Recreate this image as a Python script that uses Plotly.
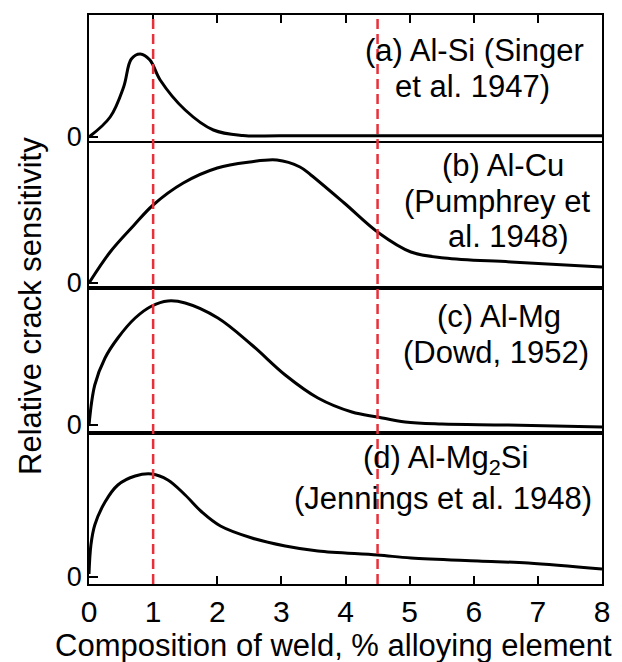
import plotly.graph_objects as go
from plotly.subplots import make_subplots

# ---- data (relative crack sensitivity vs composition, % alloying element) ----
x_a = [0, 0.33, 0.54, 0.66, 0.8, 0.95, 1.11, 1.5, 1.94, 2.4, 3.0, 8.0]
y_a = [0, 0.20, 0.50, 0.78, 0.83, 0.77, 0.57, 0.27, 0.07, 0.015, 0.012, 0.012]

x_b = [0, 0.33, 0.69, 1.0, 1.47, 2.0, 2.51, 2.93, 3.29, 3.46, 3.98, 4.52, 5.02, 5.54, 6.58, 8.0]
y_b = [0, 0.31, 0.57, 0.78, 1.00, 1.15, 1.21, 1.23, 1.16, 1.08, 0.80, 0.50, 0.31, 0.25, 0.21, 0.16]

x_c = [0, 0.09, 0.25, 0.45, 0.72, 0.98, 1.23, 1.5, 2.01, 2.54, 3.06, 3.57, 4.1, 4.5, 4.93, 5.5, 6.5, 8.0]
y_c = [0.0, 0.40, 0.67, 0.87, 1.07, 1.19, 1.24, 1.22, 1.07, 0.80, 0.50, 0.27, 0.13, 0.08, 0.03, 0.01, 0.0, -0.02]

x_d = [0, 0.03, 0.09, 0.25, 0.45, 0.72, 0.98, 1.23, 1.5, 1.76, 2.05, 2.54, 3.06, 3.57, 4.5, 5.02, 6.07, 6.85, 8.0]
y_d = [0.03, 0.32, 0.52, 0.75, 0.92, 1.01, 1.03, 0.97, 0.82, 0.65, 0.51, 0.39, 0.31, 0.26, 0.22, 0.19, 0.16, 0.14, 0.08]

series = [(x_a, y_a), (x_b, y_b), (x_c, y_c), (x_d, y_d)]

panel_labels = [
    ["(a) Al-Si (Singer", "et al. 1947)"],
    ["(b) Al-Cu", "(Pumphrey et", "al. 1948)"],
    ["(c) Al-Mg", "(Dowd, 1952)"],
    ["(d) Al-Mg<sub>2</sub>Si", "(Jennings et al. 1948)"],
]
x_ticks = [0, 1, 2, 3, 4, 5, 6, 7, 8]
ref_lines_x = [1, 4.5]
x_title = "Composition of weld, % alloying element"
y_title = "Relative crack sensitivity"

# ---- layout constants (pixels) ----
W, H = 622, 662
L, R, T, B = 89, 20, 15, 78
PW, PH = W - L - R, H - T - B
y_ranges = [[-0.06, 1.22], [-0.05, 1.40], [-0.08, 1.37], [-0.07, 1.44]]
row_heights = [128, 145, 145, 151]

FONT = "Liberation Sans, Arial, Helvetica, sans-serif"

fig = make_subplots(rows=4, cols=1, shared_xaxes=True, vertical_spacing=0,
                    row_heights=row_heights)

for i, (xs, ys) in enumerate(series):
    fig.add_trace(go.Scatter(x=xs, y=ys, mode="lines",
                             line=dict(color="black", width=3, shape="spline", smoothing=1.0),
                             showlegend=False, hoverinfo="skip"), row=i + 1, col=1)
    fig.update_yaxes(range=y_ranges[i], tickvals=[0], ticktext=["0"], ticks="inside",
                     ticklen=9, tickwidth=2, tickcolor="black",
                     tickfont=dict(size=27, color="black", family=FONT),
                     showline=True, linecolor="black", linewidth=1.6, mirror=True,
                     showgrid=False, zeroline=False, row=i + 1, col=1)
    fig.update_xaxes(range=[0, 8], showline=True, linecolor="black", linewidth=1.6, mirror=True,
                     showgrid=False, zeroline=False, row=i + 1, col=1)

# top ticks on first panel
fig.update_xaxes(side="top", ticks="inside", ticklen=8, tickwidth=2, tickcolor="black",
                 tickvals=x_ticks, showticklabels=False, row=1, col=1)
# bottom ticks & labels
fig.update_xaxes(ticks="inside", ticklen=8, tickwidth=2, tickcolor="black",
                 tickvals=x_ticks, showticklabels=True,
                 tickfont=dict(size=30, color="black", family=FONT), row=4, col=1)

# red dashed reference lines
for xv in ref_lines_x:
    fig.add_shape(type="line", xref="x", yref="paper", x0=xv, x1=xv, y0=0, y1=1,
                  line=dict(color="#e8303a", width=2.5, dash="10px,5px"), layer="above")

def px_x(p):
    return (p - L) / PW

def px_y(p):
    return (H - B - p) / PH

# panel text positions: (center x px, middle y px) per line
label_pos = [
    [(474, 51), (472, 86)],
    [(503, 166), (497, 202), (508, 237)],
    [(499, 317), (496, 353)],
    [(445, 460), (443, 498)],
]
for lines, poss in zip(panel_labels, label_pos):
    for txt, (cx, cy) in zip(lines, poss):
        fig.add_annotation(text=txt, x=px_x(cx), y=px_y(cy), xref="paper", yref="paper",
                           xanchor="center", yanchor="middle", showarrow=False,
                           font=dict(size=31, color="black", family=FONT))

fig.add_annotation(text=x_title, x=px_x(333), y=px_y(645), xref="paper", yref="paper",
                   xanchor="center", yanchor="middle", showarrow=False,
                   font=dict(size=31, color="black", family=FONT))
fig.add_annotation(text=y_title, x=px_x(30), y=px_y(306), xref="paper", yref="paper",
                   xanchor="center", yanchor="middle", showarrow=False, textangle=-90,
                   font=dict(size=31, color="black", family=FONT))

fig.update_layout(width=W, height=H, margin=dict(l=L, r=R, t=T, b=B),
                  plot_bgcolor="white", paper_bgcolor="white", showlegend=False)

fig.write_html("out.html")
